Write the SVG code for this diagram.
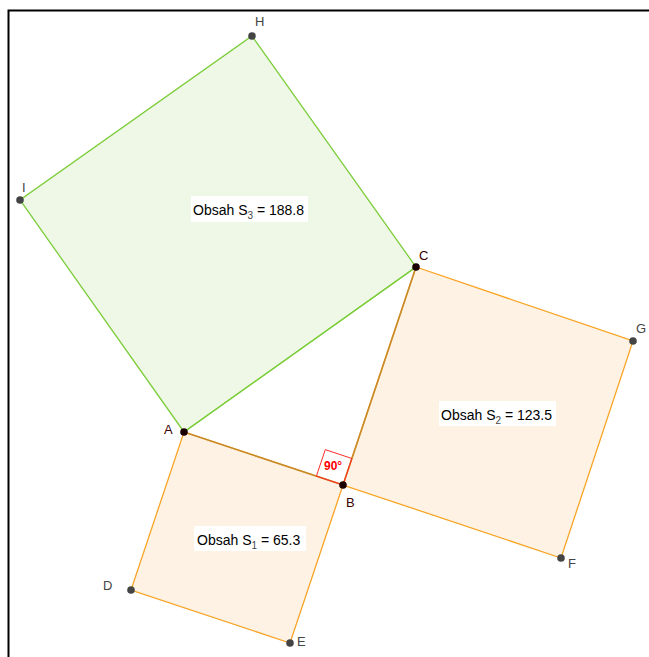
<svg xmlns="http://www.w3.org/2000/svg" width="649" height="657" viewBox="0 0 649 657">
<style>
.sqg{fill:#eff8e7;stroke:#7ccd3a;stroke-width:1.3}
.sqo{fill:#fdf2e4;stroke:#f9a425;stroke-width:1.3}
.tri{stroke:#c98a2a;stroke-width:1.6;fill:none}
.pt{fill:#444}
.ptd{fill:#1a0000}
.lbl{font-family:"Liberation Sans",Arial,sans-serif;font-size:13px;fill:#444}
.lbld{font-family:"Liberation Sans",Arial,sans-serif;font-size:13px;fill:#3a0000}
.area{font-family:"Liberation Sans",Arial,sans-serif;font-size:14px;fill:#000}
.sub{font-size:10px;fill:#444}
.box{fill:#fff}
</style>
<rect x="0" y="0" width="649" height="657" fill="#fff"/>
<path d="M8.5,657 V10.5 H649" fill="none" stroke="#000" stroke-width="2"/>
<g id="square3"><polygon class="sqg" points="184,432 416,267 252,36 20,200"/></g>
<g id="square2"><polygon class="sqo" points="343,485 416,267 633,341 561,558"/></g>
<g id="square1"><polygon class="sqo" points="184,432 343,485 290,643 131,590"/></g>
<g id="connectors">
<line class="tri" x1="184" y1="432" x2="343" y2="485"/>
<line class="tri" x1="343" y1="485" x2="416" y2="267"/>
<line x1="184" y1="432" x2="416" y2="267" stroke="#7ccd3a" stroke-width="1.3"/>
</g>
<g id="angle">
<polygon points="343,485 316.4,476.1 325.3,449.6 351.9,458.5" fill="none" stroke="#ff2a2a" stroke-width="1"/>
<text x="324" y="470" font-family="'Liberation Sans',Arial,sans-serif" font-size="12" font-weight="bold" fill="#ff0000">90°</text>
</g>
<g id="label3"><rect class="box" x="191" y="196" width="117" height="26"/><text class="area" x="193" y="215">Obsah S<tspan class="sub" dy="4">3</tspan><tspan dy="-4"> = 188.8</tspan></text></g>
<g id="label2"><rect class="box" x="439" y="401" width="117" height="25"/><text class="area" x="441" y="420">Obsah S<tspan class="sub" dy="4">2</tspan><tspan dy="-4"> = 123.5</tspan></text></g>
<g id="label1"><rect class="box" x="194" y="526" width="112" height="25"/><text class="area" x="197" y="545">Obsah S<tspan class="sub" dy="4">1</tspan><tspan dy="-4"> = 65.3</tspan></text></g>
<g id="pointA"><circle class="ptd" cx="184" cy="432" r="3.8"/><text class="lbld" x="164" y="434">A</text></g>
<g id="pointB"><circle class="ptd" cx="343" cy="485" r="3.8"/><text class="lbld" x="346" y="507">B</text></g>
<g id="pointC"><circle class="ptd" cx="416" cy="267" r="3.8"/><text class="lbld" x="419" y="260">C</text></g>
<g id="pointD"><circle class="pt" cx="131" cy="590" r="3.8"/><text class="lbl" x="103" y="590">D</text></g>
<g id="pointE"><circle class="pt" cx="290" cy="643" r="3.8"/><text class="lbl" x="297" y="646">E</text></g>
<g id="pointF"><circle class="pt" cx="561" cy="558" r="3.8"/><text class="lbl" x="568" y="568">F</text></g>
<g id="pointG"><circle class="pt" cx="633" cy="341" r="3.8"/><text class="lbl" x="636" y="333">G</text></g>
<g id="pointH"><circle class="pt" cx="252" cy="36" r="3.8"/><text class="lbl" x="255" y="26">H</text></g>
<g id="pointI"><circle class="pt" cx="20" cy="200" r="3.8"/><text class="lbl" x="22" y="192">I</text></g>
</svg>
